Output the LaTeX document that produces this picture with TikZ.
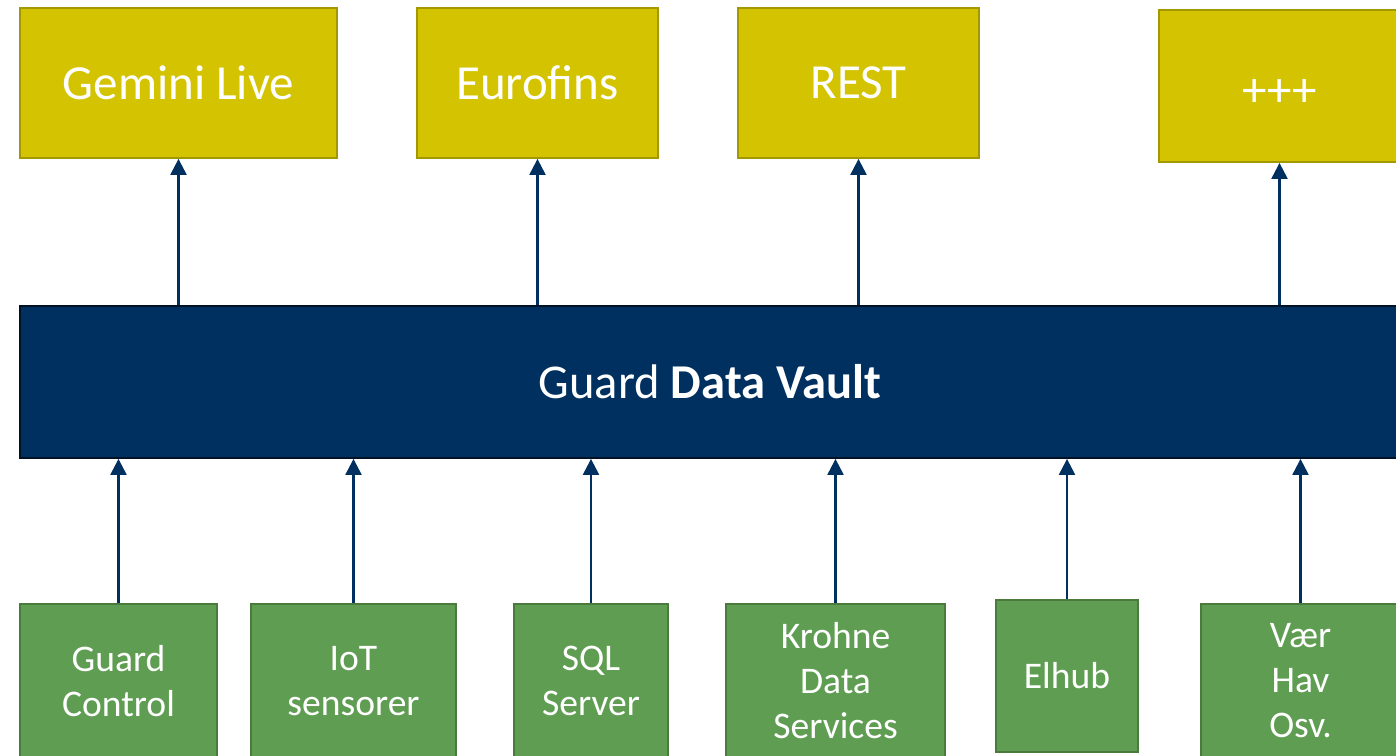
\documentclass[tikz,border=0pt]{standalone}
\usepackage{fontspec}
\setmainfont{Carlito}
\usetikzlibrary{arrows.meta}
\definecolor{vaultblue}{HTML}{003060}
\definecolor{outyellow}{HTML}{D4C300}
\definecolor{outyellowline}{HTML}{A39800}
\definecolor{srcgreen}{HTML}{5F9D52}
\definecolor{srcgreenline}{HTML}{4A7A3C}
\begin{document}
\begin{tikzpicture}[x=0.5pt,y=-0.5pt,
    sinkbox/.style={draw=outyellowline,fill=outyellow,line width=0.9pt,inner sep=0pt,text=white,font=\fontsize{24.5}{29}\selectfont},
    srcbox/.style={draw=srcgreenline,fill=srcgreen,line width=0.9pt,inner sep=0pt,text=white,align=center,font=\fontsize{18.8}{22.5}\selectfont},
    vaultbox/.style={draw=black!60!vaultblue,fill=vaultblue,line width=0.9pt,inner sep=0pt,text=white,font=\fontsize{24.3}{29}\selectfont},
    link/.style={draw=vaultblue,line width=1.1pt,-{Triangle[length=8pt,width=8pt]}}]
                \useasboundingbox (0,0) rectangle (1396,755);
                \node[sinkbox,minimum width=158.5pt,minimum height=75pt] (gem) at (178.5,83) {Gemini Live};
                \node[sinkbox,minimum width=120.5pt,minimum height=75pt] (euro) at (537.5,83) {Eurofins};
                \node[sinkbox,minimum width=120.5pt,minimum height=75pt] (rest) at (858.5,83) {REST};
                \node[sinkbox,minimum width=120.5pt,minimum height=76pt] (plus) at (1279.5,86) {\raisebox{-3.5pt}[\height][\depth]{+++}};
                \node[vaultbox,minimum width=690pt,minimum height=76pt] (vault) at (710,382) {Guard \textbf{Data Vault}};
                \node[srcbox,minimum width=98.5pt,minimum height=77pt] (ctl) at (118.5,681) {Guard\\Control};
                \node[srcbox,minimum width=102.5pt,minimum height=77pt] (iot) at (353.5,681) {IoT\\sensorer};
                \node[srcbox,minimum width=77pt,minimum height=77pt] (sql) at (591,681) {SQL\\Server};
                \node[srcbox,minimum width=109.5pt,minimum height=77pt] (krohne) at (835.5,681) {Krohne\\Data\\Services};
                \node[srcbox,minimum width=71pt,minimum height=76pt] (elhub) at (1067,676) {Elhub};
                \node[srcbox,minimum width=99.5pt,minimum height=77pt] (vaer) at (1300.5,681) {Vær\\Hav\\Osv.};

                \draw[link] (gem |- vault.north) to (gem); \draw[link] (euro |- vault.north) to (euro); \draw[link] (rest |- vault.north) to (rest); \draw[link] (plus |- vault.north) to (plus);
                \draw[link] (ctl) to (ctl |- vault.south); \draw[link] (iot) to (iot |- vault.south); \draw[link] (sql) to (sql |- vault.south); \draw[link] (krohne) to (krohne |- vault.south); \draw[link] (elhub) to (elhub |- vault.south); \draw[link] (vaer) to (vaer |- vault.south);
            \end{tikzpicture}
\end{document}
